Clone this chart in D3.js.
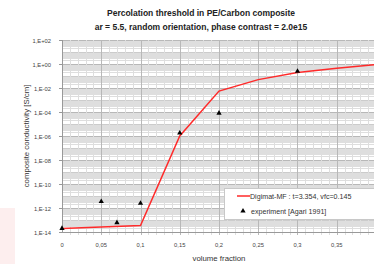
<!DOCTYPE html>
<html>
<head>
<meta charset="utf-8">
<script src="https://cdn.jsdelivr.net/npm/d3@7"></script>
<style>
  body { margin: 0; background: #fff; }
  svg { display: block; font-family: "Liberation Sans", Arial, sans-serif; }
</style>
</head>
<body>
<div id="chart"></div>
<script>
// model curve (Digimat-MF)
const modelX = [0, 0.1, 0.15, 0.2, 0.25, 0.3, 0.35, 0.4];
const modelY = [2.0e-14, 3.5e-14, 1.0e-6, 5.5e-3, 5.0e-2, 2.0e-1, 4.5e-1, 9.0e-1];

// experiment [Agari 1991]
const expX = [0, 0.05, 0.07, 0.1, 0.15, 0.2, 0.3];
const expY = [2.0e-14, 3.5e-12, 6.0e-14, 2.5e-12, 1.8e-6, 8.0e-5, 2.5e-1];

const xTicks = [0, 0.05, 0.1, 0.15, 0.2, 0.25, 0.3, 0.35];
const yTicks = [1e-14, 1e-12, 1e-10, 1e-8, 1e-6, 1e-4, 1e-2, 1e0, 1e2];

const width = 374, height = 264;
const plotL = 62, plotR = 376, plotT = 40, plotB = 232;

const svg = d3.select("#chart").append("svg")
    .attr("width", width)
    .attr("height", height);

// faint pink mark at the left edge
svg.append("rect")
    .attr("x", 0).attr("y", 208).attr("width", 15).attr("height", 56)
    .attr("fill", "#fdeeee");

const x = d3.scaleLinear().domain([0, 0.4]).range([plotL, plotR]);
const y = d3.scaleLog().domain([1e-14, 1e2]).range([plotB, plotT]);

const grid = svg.append("g");

// horizontal log grid
for (let e = -14; e < 2; e++) {
    for (let m = 2; m <= 9; m++) {
        const v = m * Math.pow(10, e);
        grid.append("line")
            .attr("x1", plotL).attr("x2", plotR)
            .attr("y1", Math.round(y(v)) + 0.5).attr("y2", Math.round(y(v)) + 0.5)
            .attr("stroke", "#dedede");
    }
}
for (let e = -14; e <= 2; e++) {
    const yy = Math.round(y(Math.pow(10, e))) + 0.5;
    grid.append("line")
        .attr("x1", plotL).attr("x2", plotR)
        .attr("y1", yy).attr("y2", yy)
        .attr("stroke", e % 2 === 0 ? "#b8b8b8" : "#cccccc");
}

// vertical grid
d3.range(1, 41).forEach(i => {
    const xx = Math.round(x(i / 100)) + 0.5;
    grid.append("line")
        .attr("x1", xx).attr("x2", xx)
        .attr("y1", plotT).attr("y2", plotB + 3)
        .attr("stroke", i % 5 === 0 ? "#b8b8b8" : "#dedede");
});

// axes lines
svg.append("line")
    .attr("x1", plotL + 0.5).attr("x2", plotL + 0.5)
    .attr("y1", plotT).attr("y2", plotB)
    .attr("stroke", "#999");
svg.append("line")
    .attr("x1", plotL).attr("x2", plotR)
    .attr("y1", plotB + 0.5).attr("y2", plotB + 0.5)
    .attr("stroke", "#999");

// y ticks
const yAxis = svg.append("g");
yTicks.forEach(t => {
    const yy = Math.round(y(t)) + 0.5;
    const ex = Math.round(Math.log10(t));
    yAxis.append("line")
        .attr("x1", plotL - 3).attr("x2", plotL)
        .attr("y1", yy).attr("y2", yy)
        .attr("stroke", "#999");
    yAxis.append("text")
        .attr("x", 51).attr("y", yy + 2)
        .attr("text-anchor", "end")
        .attr("font-size", "5.8px")
        .attr("fill", "#444")
        .text("1,E" + (ex < 0 ? "-" : "+") + String(Math.abs(ex)).padStart(2, "0"));
});

// x ticks
xTicks.forEach(t => {
    svg.append("text")
        .attr("x", x(t)).attr("y", 247)
        .attr("text-anchor", "middle")
        .attr("font-size", "5.8px")
        .attr("fill", "#444")
        .text(String(t).replace(".", ","));
});

// axis titles
svg.append("text")
    .attr("x", (plotL + plotR) / 2).attr("y", 261)
    .attr("text-anchor", "middle")
    .attr("font-size", "7.8px")
    .attr("fill", "#333")
    .text("volume fraction");

svg.append("text")
    .attr("transform", "translate(29,136) rotate(-90)")
    .attr("text-anchor", "middle")
    .attr("font-size", "7.8px")
    .attr("fill", "#333")
    .text("composite conductivity  [S/cm]");

// titles
svg.append("text")
    .attr("x", 201).attr("y", 16)
    .attr("text-anchor", "middle")
    .attr("font-size", "8.5px")
    .attr("font-weight", "bold")
    .attr("fill", "#222")
    .text("Percolation threshold in PE/Carbon composite");
svg.append("text")
    .attr("x", 201).attr("y", 30)
    .attr("text-anchor", "middle")
    .attr("font-size", "8.5px")
    .attr("font-weight", "bold")
    .attr("fill", "#222")
    .text("ar = 5.5, random orientation, phase contrast = 2.0e15");

// model line
const line = d3.line()
    .x((d, i) => x(modelX[i]))
    .y(d => y(d));

svg.append("path")
    .datum(modelY)
    .attr("d", line)
    .attr("fill", "none")
    .attr("stroke", "#ff2a2a")
    .attr("stroke-width", 1.5);

// experiment markers
const tri = d3.symbol().type(d3.symbolTriangle).size(12);
svg.selectAll(".exp")
    .data(expY)
    .enter()
    .append("path")
    .attr("class", "exp")
    .attr("d", tri)
    .attr("transform", (d, i) => `translate(${x(expX[i])},${y(d)})`)
    .attr("fill", "#000");

// legend
const lg = svg.append("g");
lg.append("rect")
    .attr("x", 224.5).attr("y", 188.5)
    .attr("width", 155).attr("height", 31)
    .attr("fill", "#fff")
    .attr("stroke", "#c8c8c8");
lg.append("line")
    .attr("x1", 237).attr("x2", 250)
    .attr("y1", 196).attr("y2", 196)
    .attr("stroke", "#ff2a2a")
    .attr("stroke-width", 1.5);
lg.append("text")
    .attr("x", 250).attr("y", 198.5)
    .attr("font-size", "7.1px")
    .attr("fill", "#333")
    .text("Digimat-MF : t=3.354, vfc=0.145");
lg.append("path")
    .attr("d", tri)
    .attr("transform", "translate(243,211)")
    .attr("fill", "#000");
lg.append("text")
    .attr("x", 251).attr("y", 213.5)
    .attr("font-size", "7.1px")
    .attr("fill", "#333")
    .text("experiment [Agari 1991]");
</script>
</body>
</html>
